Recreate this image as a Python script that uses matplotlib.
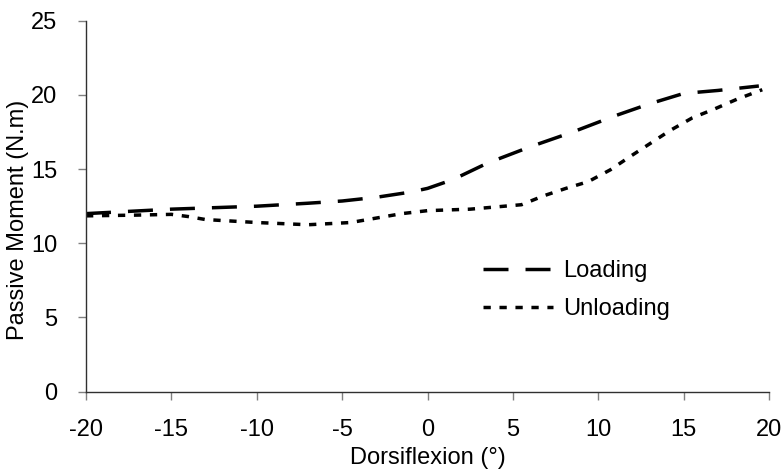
import numpy as np
import matplotlib.pyplot as plt

plt.rcParams['font.family'] = ['Liberation Sans', 'DejaVu Sans']
plt.rcParams['axes.unicode_minus'] = False

# dorsiflexion angle (deg) and passive moment (N.m)
load_x = [-20, -15, -10, -7, -5, -3, -1, 0, 1.5, 3.5, 6, 8.5, 11, 13, 15, 17, 19.4]
load_y = [12.0, 12.3, 12.5, 12.7, 12.85, 13.1, 13.45, 13.7, 14.3, 15.4, 16.5, 17.5, 18.6, 19.4, 20.1, 20.3, 20.6]

unload_x = [-20, -17, -15, -14, -13, -10, -7, -4.5, -1.5, 0, 2.5, 4, 5.5, 6.8, 8.1, 9.4, 10.7, 11.8, 13, 14.2, 15.5, 16.8, 18.1, 19.6]
unload_y = [11.85, 11.9, 11.95, 11.8, 11.6, 11.4, 11.25, 11.4, 12.0, 12.2, 12.3, 12.45, 12.6, 13.2, 13.7, 14.15, 14.95, 15.8, 16.7, 17.6, 18.45, 19.05, 19.7, 20.35]

fig = plt.figure(figsize=(7.84, 4.75), dpi=100)
ax = fig.add_axes([0.1097, 0.1754, 0.8713, 0.781])

l1, = ax.plot(load_x, load_y, color='black', lw=2.5, label='Loading')
l1.set_dashes([7.2, 4.9])
l1.set_dash_capstyle('butt')
l2, = ax.plot(unload_x, unload_y, color='black', lw=2.5, label='Unloading')
l2.set_dashes([2.1, 2.5])
l2.set_dash_capstyle('butt')

ax.set_xlim(-20, 20)
ax.set_ylim(0, 25)
ax.set_xticks(np.arange(-20, 21, 5))
ax.set_yticks(np.arange(0, 26, 5))
ax.set_xlabel('Dorsiflexion (°)', fontsize=17)
ax.set_ylabel('Passive Moment (N.m)', fontsize=17)
ax.xaxis.set_label_coords(0.5, -0.148)
ax.yaxis.set_label_coords(-0.083, 0.462)

for s in ['top', 'right']:
    ax.spines[s].set_visible(False)
for s in ['left', 'bottom']:
    ax.spines[s].set_color('#303030')
    ax.spines[s].set_linewidth(1.0)
ax.tick_params(direction='out', length=6, width=1, color='#808080', labelsize=17)
ax.tick_params(axis='x', pad=14)
ax.tick_params(axis='y', pad=14.5)

ax.legend(loc='center left', bbox_to_anchor=(0.581, 0.274), frameon=False,
          fontsize=17, handlelength=2.97, handletextpad=0.42, labelspacing=0.68,
          borderpad=0, borderaxespad=0)

fig.savefig('out.png', dpi=100)
